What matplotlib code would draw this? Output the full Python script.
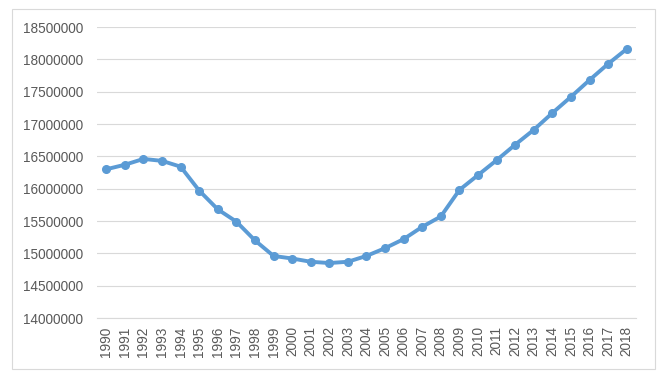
import matplotlib
matplotlib.use("Agg")
import matplotlib.pyplot as plt
from matplotlib.patches import Rectangle

# data
years = [str(y) for y in range(1990, 2019)]
values = [16300000, 16370000, 16460000, 16430000, 16340000, 15970000, 15680000,
          15490000, 15200000, 14960000, 14920000, 14870000, 14850000, 14870000,
          14960000, 15080000, 15220000, 15410000, 15570000, 15980000, 16210000,
          16440000, 16680000, 16910000, 17170000, 17420000, 17680000, 17930000,
          18160000]
y_ticks = list(range(14000000, 18500001, 500000))

plt.rcParams['font.family'] = ['Liberation Sans', 'DejaVu Sans']

fig = plt.figure(figsize=(6.62, 3.74), dpi=100)
ax = fig.add_axes([0.1465, 0.1497, 0.8142, 0.7781])

# outer chart border like excel
fig.patches.append(Rectangle((0.0181, 0.0134), 0.9713, 0.9626, transform=fig.transFigure,
                             fill=False, edgecolor='#D9D9D9', linewidth=0.8))

x = list(range(len(years)))
ax.plot(x, values, color='#5B9BD5', linewidth=2.8, marker='o', markersize=5.5,
        markerfacecolor='#5B9BD5', markeredgecolor='#5B9BD5', zorder=3)

ax.set_xlim(-0.5, len(years) - 0.5)
ax.set_ylim(14000000, 18500000)
ax.set_yticks(y_ticks)
ax.set_yticklabels([str(v) for v in y_ticks])
ax.set_xticks(x)
ax.set_xticklabels(years, rotation=90)

ax.grid(axis='y', color='#D9D9D9', linewidth=0.8)
ax.set_axisbelow(True)
for s in ['top', 'right', 'left']:
    ax.spines[s].set_visible(False)
ax.spines['bottom'].set_color('#D9D9D9')
ax.spines['bottom'].set_linewidth(0.8)
ax.tick_params(axis='both', length=0, labelsize=9.8, colors='#595959')
ax.tick_params(axis='y', pad=10)
ax.tick_params(axis='x', pad=6)

fig.savefig('out.png', dpi=100)
